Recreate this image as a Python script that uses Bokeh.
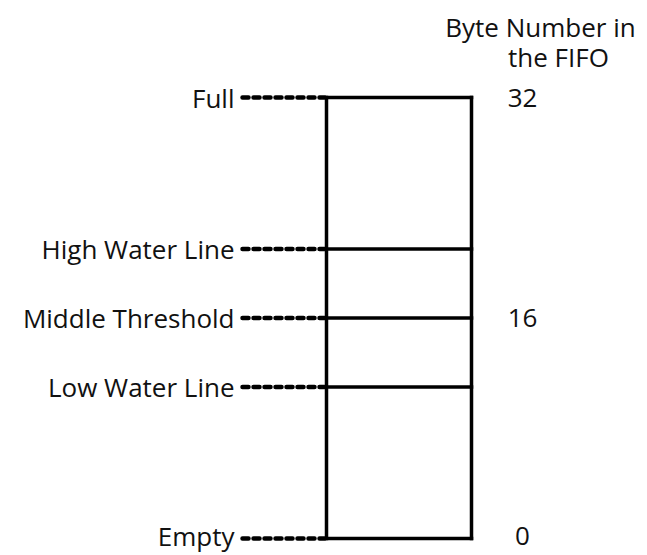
from bokeh.plotting import figure
from bokeh.models import Range1d, ColumnDataSource
from bokeh.core.properties import value
from bokeh.embed import file_html
from bokeh.resources import INLINE

# Data
levels = ["Full", "High Water Line", "Middle Threshold", "Low Water Line", "Empty"]
level_bytes = [32, 21, 16, 11, 0]
byte_ticks = [32, 16, 0]
byte_tick_labels = ["32", "16", "0"]
title_lines = ["Byte Number in", "the FIFO"]

FONT = value("Open Sans")
FS = "26px"

W, H = 639, 555

# layout (x in pixels)
box_left, box_right = 326, 471
leader_start = 242
label_right = 234
num_x = 522
y_full_px, y_empty_px = 97, 538

px_per_byte = (y_empty_px - y_full_px) / 32.0
y_top = 32 + y_full_px / px_per_byte
y_bot = 0 - (H - y_empty_px) / px_per_byte

p = figure(width=W, height=H, output_backend="svg", toolbar_location=None,
           x_range=Range1d(0, W), y_range=Range1d(y_bot, y_top),
           min_border=0, outline_line_color=None)
p.axis.visible = False
p.grid.visible = False
p.background_fill_color = "white"

lo, hi = min(level_bytes), max(level_bytes)

# Box: left & right verticals
p.segment(x0=[box_left, box_right], y0=[lo, lo], x1=[box_left, box_right], y1=[hi, hi],
          line_color="black", line_width=3.5, line_cap="square")
# Horizontal level lines across the box
src = ColumnDataSource(dict(y=level_bytes, name=levels,
                            dy=[-3 if b == lo else 0 for b in level_bytes]))
p.segment(x0=box_left, y0="y", x1=box_right, y1="y", source=src,
          line_color="black", line_width=3.5, line_cap="square")
# Dotted leaders
for b in level_bytes:
    p.line(x=[leader_start, box_left - 2], y=[b, b], line_color="black", line_width=4.5,
           line_dash="6 5", line_cap="round")
# Level labels
p.text(x=label_right, y="y", text="name", source=src, y_offset="dy", text_align="right",
       text_baseline="middle", text_font=FONT, text_font_size=FS, text_color="#111111")
# Byte number labels
nsrc = ColumnDataSource(dict(y=byte_ticks, t=byte_tick_labels,
                             dy=[-3 if b == lo else 0 for b in byte_ticks]))
p.text(x=num_x, y="y", text="t", source=nsrc, y_offset="dy", text_align="center",
       text_baseline="middle", text_font=FONT, text_font_size=FS, text_color="#111111")
# Title
p.text(x=[540, 558], y=[32 + (y_full_px - 26) / px_per_byte, 32 + (y_full_px - 56) / px_per_byte],
       text=title_lines, text_align="center", text_baseline="middle",
       text_font=FONT, text_font_size=FS, text_color="#111111")

open("out.html", "w").write(file_html(p, INLINE))
